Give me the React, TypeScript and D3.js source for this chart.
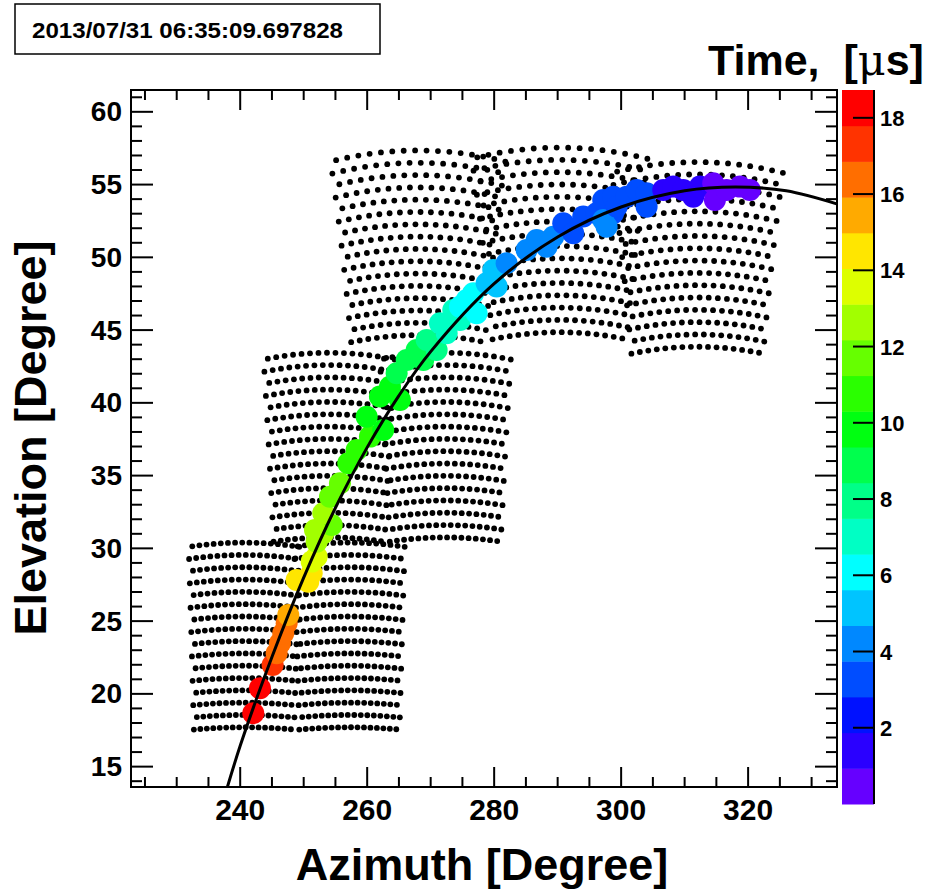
import React from 'react';
import * as d3 from 'd3';

// ---------- data ----------
const stampText = '2013/07/31 06:35:09.697828';
const xTitle = 'Azimuth [Degree]';
const yTitle = 'Elevation [Degree]';

const azDomain = [222.8, 334.0];
const elDomain = [13.6, 61.5];
const timeDomain = [0, 18.73];
const nLevels = 20;

const xMajorTicks = [240, 260, 280, 300, 320];
const yMajorTicks = [15, 20, 25, 30, 35, 40, 45, 50, 55, 60];
const cbTicks = [2, 4, 6, 8, 10, 12, 14, 16, 18];

// rainbow palette, bottom (violet) to top (red)
const paletteColors = [
  '#6600ff', '#2a00ff', '#0011ff', '#004dff', '#0088ff',
  '#00c4ff', '#00ffff', '#00ffc4', '#00ff88', '#00ff4d',
  '#00ff11', '#2aff00', '#66ff00', '#a2ff00', '#ddff00',
  '#ffe600', '#ffaa00', '#ff6e00', '#ff3300', '#ff0000',
];

// camera pointing directions (deg) — each camera is a 16x16 hexagonal PMT array
const cameraAz = [240.6, 257.2, 254.0, 272.3, 268.0, 290.3, 312.0];
const cameraEl = [24.05, 24.05, 37.1, 37.1, 51.0, 51.2, 50.2];
const pmtRows = 16;
const pmtCols = 16;
const pmtColStep = 0.977;
const pmtRowStep = 0.846;

// hit PMTs: azimuth, elevation, time [us]
const hitAz = [
  242.06, 243.11, 245.11, 245.74, 246.26, 246.78, 247.32, 247.57,
  248.89, 250.72, 251.26, 252.04, 251.26, 252.04, 253.08, 254.41, 251.78, 253.08,
  254.14, 255.71, 257.02, 258.34, 260.44, 259.92, 262.53, 262.01, 263.59, 265.16,
  264.64, 266.22, 267.79, 268.83, 269.37, 270.94, 271.46, 272.52, 273.56, 274.61,
  274.61, 275.67, 276.71, 277.24, 278.81, 280.39, 279.86, 281.96, 285.11, 286.69,
  288.26, 289.3, 290.88, 292.45, 294.03, 296.14, 297.18, 298.75, 298.75, 297.18,
  297.71, 299.29, 300.86, 302.44, 304.01, 304.01, 306.63, 308.2, 309.78, 311.35,
  312.41, 314.5, 314.77, 316.61, 318.71, 320.28,
];
const hitEl = [
  18.67, 20.38, 21.99, 22.79, 23.48, 24.16, 24.85, 25.42,
  27.83, 27.71, 28.29, 29.43, 29.09, 30.46, 31.04, 31.61, 31.26, 32.41,
  33.55, 34.47, 35.85, 36.76, 37.68, 39.05, 38.14, 40.43, 41.11, 40.2,
  42.03, 42.95, 43.63, 42.95, 44.32, 43.63, 45.47, 44.78, 46.38, 45.7,
  46.61, 47.07, 47.53, 46.16, 48.22, 47.99, 49.13, 49.59, 50.51, 51.19,
  50.73, 51.42, 52.34, 51.66, 52.8, 53.03, 53.94, 53.03, 54.17, 52.57,
  52.11, 53.48, 54.17, 54.63, 54.4, 53.48, 54.63, 54.86, 54.63, 54.17,
  54.86, 55.09, 53.94, 54.63, 54.86, 54.63,
];
const hitTime = [
  18.3, 18.0, 17.3, 16.6, 16.4, 16.2, 16.0, 15.5,
  14.6, 14.5, 14.3, 13.6, 13.8, 12.9, 12.7, 12.0, 12.8, 12.3,
  11.9, 11.6, 11.0, 10.7, 10.4, 10.0, 10.2, 9.8, 9.5, 9.6,
  9.1, 8.8, 8.6, 8.5, 8.0, 7.9, 7.2, 7.1, 6.8, 6.7,
  6.3, 6.2, 6.0, 6.1, 5.4, 5.3, 5.1, 4.5, 4.4, 4.3,
  4.2, 3.9, 3.5, 3.4, 3.3, 3.2, 3.0, 3.1, 2.9, 3.8,
  3.9, 3.3, 3.0, 2.9, 2.85, 2.9, 1.7, 1.6, 1.5, 1.4,
  1.2, 0.8, 0.7, 0.6, 0.5, 0.4,
];

// fitted track
const fitAz = [236.5, 240, 245, 250, 255, 260, 265, 270, 280, 290, 300, 310, 318, 326, 336];
const fitEl = [11.4, 16.43, 22.53, 27.99, 32.79, 36.94, 40.5, 43.52, 48.19, 51.4, 53.46, 54.57, 54.83, 54.57, 53.4];

// ---------- layout ----------
const W = 925;
const H = 890;
const PL = 131, PR = 837, PT = 90, PB = 787;
const CBL = 842, CBR = 874, CBT = 90, CBB = 804;
const FONT = '"Liberation Sans", Arial, Helvetica, sans-serif';

const x = d3.scaleLinear().domain(azDomain).range([PL, PR]);
const y = d3.scaleLinear().domain(elDomain).range([PB, PT]);
const cy = d3.scaleLinear().domain(timeDomain).range([CBB, CBT]);
const levelStep = (timeDomain[1] - timeDomain[0]) / nLevels;
const colorOf = (t: number) => {
  const i = Math.max(0, Math.min(nLevels - 1, Math.floor((t - timeDomain[0]) / levelStep)));
  return paletteColors[i];
};

function cameraPixels(az0: number, el0: number) {
  const r = Math.PI / 180;
  const a = az0 * r, e = el0 * r;
  const f = [Math.cos(e) * Math.cos(a), Math.cos(e) * Math.sin(a), Math.sin(e)];
  const rt = [-Math.sin(a), Math.cos(a), 0];
  const up = [-Math.sin(e) * Math.cos(a), -Math.sin(e) * Math.sin(a), Math.cos(e)];
  const out: [number, number][] = [];
  for (let j = 0; j < pmtRows; j++) {
    for (let i = 0; i < pmtCols; i++) {
      const u = (i - (pmtCols - 1) / 2 + (j % 2 === 0 ? -0.25 : 0.25)) * pmtColStep;
      const v = (j - (pmtRows - 1) / 2) * pmtRowStep;
      const tu = Math.tan(u * r), tv = Math.tan(v * r);
      const d = [0, 1, 2].map((k) => f[k] + tu * rt[k] + tv * up[k]);
      const n = Math.hypot(d[0], d[1], d[2]);
      const el = Math.asin(d[2] / n) / r;
      let az = Math.atan2(d[1], d[0]) / r;
      while (az - az0 > 180) az -= 360;
      while (az - az0 < -180) az += 360;
      out.push([az, el]);
    }
  }
  return out;
}

export default function App() {
  const pixels = cameraAz.flatMap((az0, k) => cameraPixels(az0, cameraEl[k]));
  const hits = hitAz.map((a, i) => ({ az: a, el: hitEl[i], t: hitTime[i] }));
  const fitPts = fitAz.map((a, i) => [a, fitEl[i]] as [number, number]);
  const line = d3
    .line<[number, number]>()
    .x((d) => x(d[0]))
    .y((d) => y(d[1]))
    .curve(d3.curveCatmullRom);

  const xMinor = d3.range(225, 334, 5).filter((v) => !xMajorTicks.includes(v));
  const yMinor = d3.range(14, 62, 1).filter((v) => !yMajorTicks.includes(v));
  const bands = d3.range(nLevels).map((i) => ({
    lo: timeDomain[0] + i * levelStep,
    hi: timeDomain[0] + (i + 1) * levelStep,
    c: paletteColors[i],
  }));

  return (
    <svg
      width={W}
      height={H}
      style={{ position: 'absolute', left: 0, top: 0, background: '#fff' }}
      fontFamily={FONT}
    >
      <defs>
        <clipPath id="plotclip">
          <rect x={PL} y={PT} width={PR - PL} height={PB - PT} />
        </clipPath>
      </defs>
      <rect x={0} y={0} width={W} height={H} fill="#fff" />

      {/* timestamp box */}
      <rect x={15} y={4} width={365} height={50} fill="#fff" stroke="#000" strokeWidth={1.5} />
      <text x={32} y={38} fontSize={22} fontWeight="bold" textLength={311} lengthAdjust="spacingAndGlyphs">
        {stampText}
      </text>

      {/* PMT pixels */}
      <g clipPath="url(#plotclip)">
        {pixels.map((p, i) => (
          <circle key={i} cx={x(p[0])} cy={y(p[1])} r={2.9} fill="#000" />
        ))}
      </g>

      {/* hits */}
      <g clipPath="url(#plotclip)">
        {hits.map((h, i) => (
          <circle key={i} cx={x(h.az)} cy={y(h.el)} r={11} fill={colorOf(h.t)} />
        ))}
      </g>

      {/* fitted track */}
      <path d={line(fitPts) || ''} fill="none" stroke="#000" strokeWidth={3} clipPath="url(#plotclip)" />

      {/* frame */}
      <rect x={PL} y={PT} width={PR - PL} height={PB - PT} fill="none" stroke="#000" strokeWidth={2} />

      {/* x ticks (bottom & top) */}
      {xMajorTicks.map((v) => (
        <g key={'xM' + v}>
          <line x1={x(v)} x2={x(v)} y1={PB} y2={PB - 20} stroke="#000" strokeWidth={2} />
          <line x1={x(v)} x2={x(v)} y1={PT} y2={PT + 20} stroke="#000" strokeWidth={2} />
          <text x={x(v)} y={820} fontSize={30} fontWeight="bold" textAnchor="middle">
            {v}
          </text>
        </g>
      ))}
      {xMinor.map((v) => (
        <g key={'xm' + v}>
          <line x1={x(v)} x2={x(v)} y1={PB} y2={PB - 10} stroke="#000" strokeWidth={2} />
          <line x1={x(v)} x2={x(v)} y1={PT} y2={PT + 10} stroke="#000" strokeWidth={2} />
        </g>
      ))}

      {/* y ticks (left & right) */}
      {yMajorTicks.map((v) => (
        <g key={'yM' + v}>
          <line x1={PL} x2={PL + 22} y1={y(v)} y2={y(v)} stroke="#000" strokeWidth={2} />
          <line x1={PR} x2={PR - 22} y1={y(v)} y2={y(v)} stroke="#000" strokeWidth={2} />
          <text x={122} y={y(v) + 9.5} fontSize={28} fontWeight="bold" textAnchor="end">
            {v}
          </text>
        </g>
      ))}
      {yMinor.map((v) => (
        <g key={'ym' + v}>
          <line x1={PL} x2={PL + 11} y1={y(v)} y2={y(v)} stroke="#000" strokeWidth={2} />
          <line x1={PR} x2={PR - 11} y1={y(v)} y2={y(v)} stroke="#000" strokeWidth={2} />
        </g>
      ))}

      {/* axis titles */}
      <text x={482} y={880} fontSize={45} fontWeight="bold" textAnchor="middle">
        {xTitle}
      </text>
      <text
        transform={`translate(46, 438) rotate(-90)`}
        fontSize={45}
        fontWeight="bold"
        textAnchor="middle"
      >
        {yTitle}
      </text>

      {/* colour bar */}
      {bands.map((b, i) => (
        <rect key={'b' + i} x={CBL} y={cy(b.hi)} width={CBR - CBL} height={cy(b.lo) - cy(b.hi) + 0.5} fill={b.c} />
      ))}
      <line x1={CBR} x2={CBR} y1={CBT} y2={CBB} stroke="#000" strokeWidth={2} />
      {cbTicks.map((v) => (
        <g key={'cb' + v}>
          <line x1={CBR} x2={CBR - 21} y1={cy(v)} y2={cy(v)} stroke="#000" strokeWidth={2} />
          <text x={880} y={cy(v) + 8} fontSize={22} fontWeight="bold">
            {v}
          </text>
        </g>
      ))}

      {/* colour bar title */}
      <text x={708} y={75} fontSize={43} fontWeight="bold">
        {'Time,\u00a0\u00a0['}
        <tspan fontFamily='"DejaVu Serif", "Liberation Serif", serif' fontWeight="normal">
          {'\u03bc'}
        </tspan>
        {'s]'}
      </text>
    </svg>
  );
}
